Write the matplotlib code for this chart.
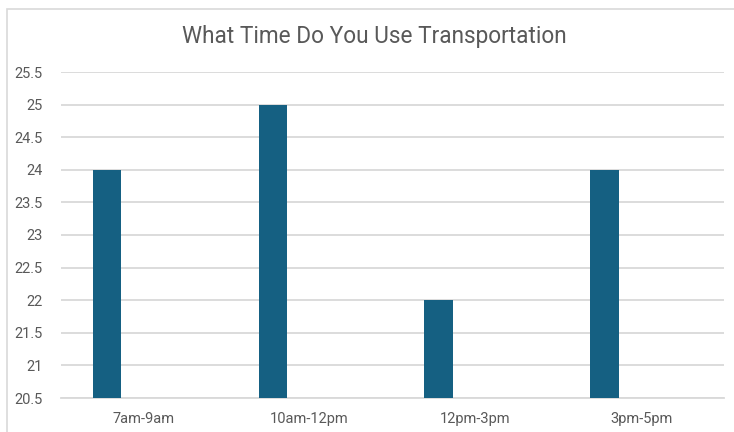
import numpy as np
import matplotlib.pyplot as plt
from matplotlib.patches import Rectangle

categories = ['7am-9am', '10am-12pm', '12pm-3pm', '3pm-5pm']
people = [24, 25, 22, 24]
y_ticks = [20.5, 21, 21.5, 22, 22.5, 23, 23.5, 24, 24.5, 25, 25.5]

plt.rcParams['font.family'] = ['Roboto', 'DejaVu Sans']

fig = plt.figure(figsize=(7.34, 4.32), dpi=100)
fig.patch.set_facecolor('white')

# chart area outline (runs off the right and bottom edges)
fig.patches.append(Rectangle((6.5 / 734, -0.05), 1.0, 1 - 8.5 / 432 + 0.05,
                             transform=fig.transFigure, fill=False,
                             edgecolor='#d9d9d9', linewidth=1.2))

ax = fig.add_axes([61 / 734, 1 - 398 / 432, 663 / 734, 326 / 432])

x = np.arange(len(categories))
ax.bar(x - 0.222, people, width=0.172, bottom=0, color='#156082', zorder=3)

ax.set_xlim(-0.5, len(categories) - 0.5)
ax.set_ylim(20.5, 25.5)
ax.set_yticks(y_ticks)
ax.set_yticklabels([f'{v:g}' for v in y_ticks])
ax.set_xticks(x)
ax.set_xticklabels(categories)

ax.grid(axis='y', color='#d9d9d9', linewidth=1.3, zorder=0)
for s in ['top', 'right', 'left']:
    ax.spines[s].set_visible(False)
ax.spines['bottom'].set_color('#d9d9d9')
ax.spines['bottom'].set_linewidth(1.3)
ax.tick_params(axis='both', length=0, labelsize=10.5, labelcolor='#595959')
ax.tick_params(axis='y', pad=13)
ax.tick_params(axis='x', pad=10)

fig.text(374 / 734, 1 - 37 / 432, 'What Time Do You Use Transportation',
         ha='center', va='center', fontsize=16.3, color='#595959')

fig.savefig('out.png', dpi=100)
